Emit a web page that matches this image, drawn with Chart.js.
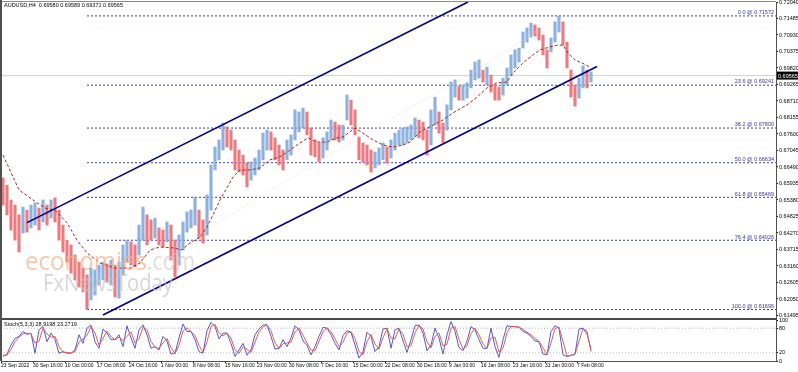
<!DOCTYPE html>
<html>
<head>
<meta charset="utf-8">
<script src="https://cdn.jsdelivr.net/npm/chart.js@4.4.1/dist/chart.umd.min.js"></script>
<style>
  html, body { margin: 0; padding: 0; background: #fff; }
  #wrap { position: relative; width: 798px; height: 372px; overflow: hidden; background: #fff; }
  #priceCanvas { position: absolute; left: 0; top: 0; }
  #stochCanvas { position: absolute; left: 0; top: 318px; }
</style>
</head>
<body>
<div id="wrap">
  <canvas id="priceCanvas" width="798" height="318"></canvas>
  <canvas id="stochCanvas" width="798" height="54"></canvas>
</div>
<script>
// AUDUSD H4 - 1バー = 約4本分 (H4) に間引いて読み取り
const highs = [
  0.6612, 0.6588, 0.6538, 0.6521, 0.6488, 0.6514, 0.6504, 0.6521, 0.6528, 0.6511,
  0.6538, 0.6521, 0.6538, 0.6545, 0.6504, 0.6454, 0.6403, 0.6387, 0.6353, 0.6329,
  0.6309, 0.6286, 0.6309, 0.6303, 0.6319, 0.6329, 0.6323, 0.6336, 0.6319, 0.6329,
  0.6387, 0.6403, 0.6397, 0.6387, 0.6454, 0.6514, 0.6488, 0.6471, 0.6477, 0.6444,
  0.6437, 0.6464, 0.6454, 0.6403, 0.6420, 0.6464, 0.6498, 0.6504, 0.6548, 0.6504,
  0.6471, 0.6555, 0.6656, 0.6716, 0.6740, 0.6797, 0.6784, 0.6773, 0.6740, 0.6706,
  0.6689, 0.6662, 0.6666, 0.6679, 0.6706, 0.6763, 0.6773, 0.6767, 0.6747, 0.6723,
  0.6706, 0.6740, 0.6757, 0.6841, 0.6834, 0.6847, 0.6834, 0.6780, 0.6740, 0.6730,
  0.6747, 0.6767, 0.6807, 0.6800, 0.6790, 0.6790, 0.6891, 0.6874, 0.6841, 0.6750,
  0.6730, 0.6723, 0.6706, 0.6699, 0.6713, 0.6730, 0.6716, 0.6740, 0.6763, 0.6773,
  0.6780, 0.6784, 0.6790, 0.6814, 0.6807, 0.6800, 0.6773, 0.6841, 0.6884, 0.6834,
  0.6797, 0.6858, 0.6935, 0.6942, 0.6921, 0.6925, 0.6932, 0.6975, 0.7002, 0.7009,
  0.6975, 0.6985, 0.6958, 0.6925, 0.6918, 0.6948, 0.6982, 0.7026, 0.7043, 0.7049,
  0.7103, 0.7117, 0.7133, 0.7127, 0.7117, 0.7093, 0.7043, 0.7083, 0.7137, 0.7157,
  0.7137, 0.7069, 0.6975, 0.6925, 0.6948, 0.6989, 0.6975, 0.6969
];
const lows = [
  0.6521, 0.6488, 0.6437, 0.6403, 0.6363, 0.6427, 0.6430, 0.6444, 0.6454, 0.6437,
  0.6464, 0.6454, 0.6477, 0.6464, 0.6403, 0.6363, 0.6329, 0.6292, 0.6269, 0.6245,
  0.6229, 0.6170, 0.6202, 0.6218, 0.6252, 0.6269, 0.6262, 0.6252, 0.6212, 0.6208,
  0.6286, 0.6329, 0.6319, 0.6313, 0.6353, 0.6403, 0.6387, 0.6403, 0.6410, 0.6387,
  0.6380, 0.6397, 0.6336, 0.6279, 0.6319, 0.6370, 0.6430, 0.6444, 0.6454, 0.6410,
  0.6393, 0.6420, 0.6504, 0.6639, 0.6673, 0.6706, 0.6716, 0.6706, 0.6639, 0.6632,
  0.6622, 0.6582, 0.6605, 0.6622, 0.6639, 0.6673, 0.6706, 0.6706, 0.6673, 0.6656,
  0.6639, 0.6673, 0.6689, 0.6740, 0.6767, 0.6780, 0.6757, 0.6689, 0.6683, 0.6666,
  0.6679, 0.6706, 0.6740, 0.6740, 0.6733, 0.6740, 0.6807, 0.6790, 0.6757, 0.6673,
  0.6666, 0.6656, 0.6632, 0.6646, 0.6656, 0.6673, 0.6662, 0.6679, 0.6706, 0.6723,
  0.6723, 0.6730, 0.6740, 0.6750, 0.6747, 0.6740, 0.6689, 0.6723, 0.6790, 0.6763,
  0.6730, 0.6773, 0.6841, 0.6884, 0.6874, 0.6874, 0.6881, 0.6915, 0.6942, 0.6948,
  0.6935, 0.6925, 0.6901, 0.6874, 0.6874, 0.6891, 0.6925, 0.6958, 0.6982, 0.7002,
  0.7049, 0.7069, 0.7086, 0.7090, 0.7076, 0.7026, 0.6982, 0.7036, 0.7069, 0.7103,
  0.7059, 0.6982, 0.6884, 0.6854, 0.6881, 0.6915, 0.6915, 0.6935
];

// 移動平均 (赤い破線)
const maIdx = [0, 4, 7.5, 10.5, 13, 16, 18.5, 21, 24.25, 28, 31.75, 34.25, 36.75, 39.25, 42.5,
  44.75, 46.75, 49.25, 51, 52.5, 54.25, 57.5, 59.25, 61.75, 64.25, 66.75, 69.25, 71.75, 74.25, 76.25,
  78.5, 81, 83.5, 85, 88, 90, 92.5, 95, 97.5, 100, 101.75, 104.25, 107.5, 110, 112.5,
  116, 118.5, 121, 123.5, 126, 127.5, 130, 132.5, 134.25, 136.75, 138.75, 140, 141.25, 143, 144.75, 146.75];
const maVals = [0.6689, 0.6572, 0.6538, 0.6511, 0.6504, 0.6461, 0.6403, 0.6360, 0.6326, 0.6309,
  0.6309, 0.6326, 0.6370, 0.6380, 0.6377, 0.6370, 0.6393, 0.6413, 0.6447, 0.6488,
  0.6538, 0.6615, 0.6639, 0.6639, 0.6646, 0.6673, 0.6683, 0.6706, 0.6730, 0.6747,
  0.6733, 0.6733, 0.6747, 0.6750, 0.6780, 0.6763, 0.6740, 0.6723, 0.6716, 0.6723,
  0.6733, 0.6767, 0.6790, 0.6807, 0.6831, 0.6858, 0.6884, 0.6915, 0.6932, 0.6935,
  0.6965, 0.6999, 0.7026, 0.7043, 0.7053, 0.7059, 0.7059, 0.7032, 0.7009, 0.6999, 0.6985];

// 長期移動平均 (薄い点線)
const slowIdx = [29.25, 51.75, 74.25, 101.75, 119.25, 138.5];
const slowVals = [0.6218, 0.6444, 0.6632, 0.6847, 0.6982, 0.7150];

// チャネルライン
const upperIdx = [6, 116.25];
const upperVals = [0.6462, 0.7204];
const lowerIdx = [25, 148.5];
const lowerVals = [0.6151, 0.6987];

// フィボナッチ
const fibNames = ['0.0', '23.6', '38.2', '50.0', '61.8', '76.4', '100.0'];
const fibLevels = [0.71572, 0.69241, 0.67800, 0.66634, 0.65469, 0.64026, 0.61696];
const fibStart = 21;

const yTicks = [0.72040, 0.71485, 0.70930, 0.70375, 0.69820, 0.69265, 0.68710, 0.68155, 0.67600, 0.67045,
  0.66490, 0.65935, 0.65380, 0.64825, 0.64270, 0.63715, 0.63160, 0.62605, 0.62050, 0.61495];
const lastPrice = 0.69565;
const headerText = 'AUDUSD,H4  0.69580 0.69589 0.69371 0.69565';

const xLabels = ['23 Sep 2022', '30 Sep 16:00', '10 Oct 00:00', '17 Oct 08:00', '24 Oct 16:00', '1 Nov 00:00',
  '8 Nov 08:00', '15 Nov 16:00', '23 Nov 00:00', '30 Nov 08:00', '7 Dec 16:00', '15 Dec 00:00',
  '22 Dec 08:00', '30 Dec 16:00', '9 Jan 00:00', '16 Jan 08:00', '23 Jan 16:00', '31 Jan 00:00', '7 Feb 08:00'];
const xTickPos = [-0.5, 7.5, 15.5, 23.5, 31.5, 39.5, 47.5, 55.5, 63.5, 71.5, 79.5, 87.5, 95.5, 103.5,
  111.5, 119.5, 127.5, 135.5, 143.5];

// ストキャスティクス
const stochK = [
  11, 17, 39, 55, 60, 72, 65, 68, 19, 76, 84, 47, 68, 52, 19, 23, 19, 19, 27, 64,
  43, 80, 88, 47, 31, 78, 68, 52, 52, 64, 35, 86, 56, 31, 76, 88, 64, 31, 35, 27,
  60, 49, 17, 19, 56, 90, 72, 72, 52, 23, 19, 74, 94, 84, 54, 68, 68, 43, 11, 27,
  43, 14, 27, 64, 78, 88, 88, 60, 29, 31, 52, 35, 56, 86, 76, 49, 38, 15, 35, 60,
  82, 80, 64, 43, 27, 62, 74, 70, 39, 7, 23, 70, 60, 23, 35, 78, 80, 31, 76, 80,
  49, 21, 52, 86, 88, 68, 25, 39, 80, 56, 17, 64, 96, 72, 33, 25, 49, 84, 76, 52,
  31, 31, 80, 35, 9, 52, 86, 84, 84, 82, 72, 68, 60, 49, 47, 17, 15, 72, 86, 80,
  15, 11, 14, 17, 78, 80, 66, 29
];
const stochD = [
  14, 14, 28, 47, 58, 66, 68, 66, 44, 48, 80, 66, 58, 60, 36, 21, 21, 19, 23, 46,
  54, 62, 84, 68, 39, 55, 73, 60, 52, 58, 50, 60, 71, 44, 54, 82, 76, 48, 33, 31,
  44, 55, 33, 18, 38, 73, 81, 72, 62, 38, 21, 47, 84, 89, 69, 61, 68, 56, 27, 19,
  35, 29, 21, 46, 71, 83, 88, 74, 45, 30, 42, 44, 46, 71, 81, 63, 44, 27, 25, 48,
  71, 81, 72, 54, 35, 45, 68, 72, 55, 23, 15, 47, 65, 42, 29, 57, 79, 56, 54, 78,
  65, 35, 37, 69, 87, 78, 47, 32, 60, 68, 37, 41, 80, 84, 53, 29, 37, 67, 80, 64,
  42, 31, 56, 58, 22, 31, 69, 85, 84, 83, 77, 70, 64, 55, 48, 32, 16, 44, 79, 83,
  48, 13, 13, 16, 48, 79, 73, 23
];
const stochLevels = [20, 80];
const stochTicks = [0, 20, 80, 100];
const stochText = 'Stoch(5,3,3) 28.9198 23.2719';

const X_MIN = -0.5;
const X_MAX = 193.25;
const UP_COLOR = 'rgba(130, 170, 215, 0.9)';
const DOWN_COLOR = 'rgba(232, 110, 115, 0.9)';
const FONT = 'Liberation Sans';

Chart.defaults.font.family = FONT;

const toXY = (xs, ys) => xs.map((x, i) => ({ x: x, y: ys[i] }));
const hLine = (from, level) => [{ x: from, y: level }, { x: X_MAX, y: level }];

const barColors = highs.map((h, i) => {
  if (i === 0) return DOWN_COLOR;
  return (h + lows[i]) >= (highs[i - 1] + lows[i - 1]) ? UP_COLOR : DOWN_COLOR;
});

const lineBase = { type: 'line', pointRadius: 0, borderWidth: 1, fill: false, tension: 0 };

// メインチャートの装飾
const priceOverlay = {
  id: 'priceOverlay',
  afterDatasetsDraw(chart) {
    const { ctx, chartArea } = chart;
    const y = chart.scales.y;
    ctx.save();

    // ウォーターマーク
    const drawFit = (text, x, base, width, font, color) => {
      ctx.font = font;
      const w = ctx.measureText(text).width;
      ctx.save();
      ctx.translate(x, base);
      ctx.scale(width / w, 1);
      ctx.fillStyle = color;
      ctx.fillText(text, 0, 0);
      ctx.restore();
    };
    ctx.textAlign = 'left';
    ctx.textBaseline = 'alphabetic';
    ctx.globalAlpha = 0.7;
    drawFit('economies', 25, 270, 122, '26px "Open Sans"', '#f5b184');
    drawFit('.com', 147, 270, 48, '26px "Open Sans"', '#cfcfcf');
    drawFit('FxNewsToday', 43, 291, 130, '24px "Open Sans"', '#c4c4c4');
    ctx.globalAlpha = 1;

    // フィボナッチのラベル
    ctx.font = '5.5px "' + FONT + '"';
    ctx.fillStyle = '#34349a';
    ctx.textAlign = 'right';
    ctx.textBaseline = 'bottom';
    fibLevels.forEach((lv, i) => {
      ctx.fillText(fibNames[i] + ' @ ' + lv.toFixed(5), chartArea.right - 2, y.getPixelForValue(lv) - 0.5);
    });

    // ヘッダー
    ctx.fillStyle = '#000';
    ctx.textAlign = 'left';
    ctx.textBaseline = 'top';
    ctx.fillText(headerText, 4, 3);
    ctx.restore();
  },
  afterDraw(chart) {
    const { ctx, chartArea } = chart;
    const y = chart.scales.y;
    ctx.save();
    // 枠
    ctx.fillStyle = '#8a8a8a';
    ctx.fillRect(0, 1, chartArea.right, 1);
    ctx.fillStyle = '#505050';
    ctx.fillRect(0, 0, 2, 318);
    // 現在値ボックス
    const py = y.getPixelForValue(lastPrice);
    ctx.fillStyle = '#000';
    ctx.fillRect(chartArea.right + 1, py - 4, 21, 8);
    ctx.fillStyle = '#fff';
    ctx.font = '5.5px "' + FONT + '"';
    ctx.textAlign = 'left';
    ctx.textBaseline = 'middle';
    ctx.fillText(lastPrice.toFixed(5), chartArea.right + 2, py + 0.5);
    ctx.restore();
  }
};

const priceDatasets = [
  Object.assign({}, lineBase, { data: hLine(X_MIN, lastPrice), borderColor: '#b4dbe8', order: 9 }),
  ...fibLevels.map(lv => Object.assign({}, lineBase, {
    data: hLine(fibStart, lv), borderColor: '#3a3aa6', borderDash: [2, 2], order: 8
  })),
  {
    type: 'bar',
    data: highs.map((h, i) => ({ x: i, y: [lows[i], h] })),
    backgroundColor: barColors,
    barThickness: 2.5,
    grouped: false,
    order: 5
  },
  Object.assign({}, lineBase, { data: toXY(slowIdx, slowVals), borderColor: '#f2cccc', borderDash: [1, 2], order: 4 }),
  Object.assign({}, lineBase, { data: toXY(maIdx, maVals), borderColor: '#a02828', borderDash: [3, 2], order: 3 }),
  Object.assign({}, lineBase, { data: toXY(upperIdx, upperVals), borderColor: '#000080', borderWidth: 1.6, order: 1 }),
  Object.assign({}, lineBase, { data: toXY(lowerIdx, lowerVals), borderColor: '#000080', borderWidth: 1.6, order: 1 })
];

new Chart(document.getElementById('priceCanvas'), {
  type: 'bar',
  data: { datasets: priceDatasets },
  options: {
    responsive: false,
    animation: false,
    devicePixelRatio: 1,
    layout: { padding: { left: 1, top: 2, right: 0, bottom: 1 } },
    plugins: { legend: { display: false }, tooltip: { enabled: false } },
    scales: {
      x: { type: 'linear', min: X_MIN, max: X_MAX, display: false, offset: false },
      y: {
        type: 'linear',
        position: 'right',
        min: 0.614445,
        max: 0.72040,
        afterBuildTicks: s => { s.ticks = yTicks.map(v => ({ value: v })); },
        afterFit: s => { s.width = 22; s.paddingTop = 0; s.paddingBottom = 0; },
        ticks: {
          font: { family: FONT, size: 5.5 },
          color: '#000',
          padding: 1,
          autoSkip: false,
          callback: v => Number(v).toFixed(5)
        },
        grid: { drawOnChartArea: false, tickLength: 2, color: '#000' },
        border: { color: '#505050' }
      }
    }
  },
  plugins: [priceOverlay]
});

// ストキャスティクスの装飾
const stochOverlay = {
  id: 'stochOverlay',
  afterDatasetsDraw(chart) {
    const { ctx } = chart;
    ctx.save();
    ctx.font = '5.5px "' + FONT + '"';
    ctx.fillStyle = '#000';
    ctx.textAlign = 'left';
    ctx.textBaseline = 'top';
    ctx.fillText(stochText, 4, 4);
    ctx.restore();
  },
  afterDraw(chart) {
    const { ctx, chartArea } = chart;
    ctx.save();
    ctx.fillStyle = '#4a4a4a';
    ctx.fillRect(0, 0, chartArea.right + 1, 2);
    ctx.fillStyle = '#505050';
    ctx.fillRect(0, 0, 2, chartArea.bottom);
    ctx.restore();
  }
};

new Chart(document.getElementById('stochCanvas'), {
  type: 'line',
  data: {
    datasets: [
      ...stochLevels.map(lv => Object.assign({}, lineBase, {
        data: hLine(X_MIN, lv), borderColor: '#b4b4b4', borderDash: [1, 2], order: 5
      })),
      Object.assign({}, lineBase, { data: stochK.map((v, i) => ({ x: i, y: v })), borderColor: '#5656c4', order: 3 }),
      Object.assign({}, lineBase, { data: stochD.map((v, i) => ({ x: i, y: v })), borderColor: '#e25a5a', order: 2 })
    ]
  },
  options: {
    responsive: false,
    animation: false,
    devicePixelRatio: 1,
    layout: { padding: { left: 1, top: 2, right: 0, bottom: 0 } },
    plugins: { legend: { display: false }, tooltip: { enabled: false } },
    scales: {
      x: {
        type: 'linear',
        min: X_MIN,
        max: X_MAX,
        offset: false,
        afterBuildTicks: s => { s.ticks = xTickPos.map(v => ({ value: v })); },
        afterFit: s => { s.height = 11; s.paddingLeft = 0; s.paddingRight = 0; },
        ticks: {
          font: { family: FONT, size: 5 },
          color: '#000',
          align: 'start',
          maxRotation: 0,
          autoSkip: false,
          padding: 0,
          callback: (v, i) => xLabels[i]
        },
        grid: { drawOnChartArea: false, tickLength: 2, color: '#000' },
        border: { color: '#505050' }
      },
      y: {
        position: 'right',
        min: 0,
        max: 100,
        afterBuildTicks: s => { s.ticks = stochTicks.map(v => ({ value: v })); },
        afterFit: s => { s.width = 22; s.paddingTop = 0; s.paddingBottom = 0; },
        ticks: { font: { family: FONT, size: 5.5 }, color: '#000', padding: 1, autoSkip: false },
        grid: { drawOnChartArea: false, tickLength: 2, color: '#000' },
        border: { color: '#505050' }
      }
    }
  },
  plugins: [stochOverlay]
});
</script>
</body>
</html>
